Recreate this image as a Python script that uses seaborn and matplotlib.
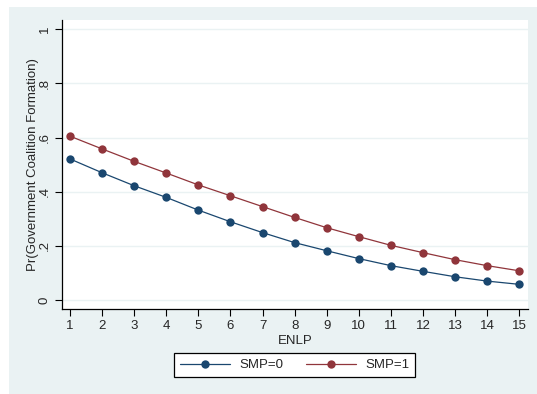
import numpy as np
import pandas as pd
import seaborn as sns
import matplotlib
matplotlib.use("Agg")
from matplotlib import pyplot as plt
from matplotlib.patches import Rectangle

enlp = list(range(1, 16))
smp0 = [0.521, 0.470, 0.422, 0.379, 0.332, 0.289, 0.249, 0.212,
        0.182, 0.153, 0.127, 0.106, 0.086, 0.070, 0.058]
smp1 = [0.605, 0.558, 0.512, 0.469, 0.425, 0.385, 0.345, 0.305,
        0.267, 0.234, 0.202, 0.175, 0.149, 0.127, 0.108]
series_labels = ["SMP=0", "SMP=1"]
y_ticks = [0, 0.2, 0.4, 0.6, 0.8, 1.0]
y_tick_labels = ["0", ".2", ".4", ".6", ".8", "1"]

df = pd.DataFrame({
    "ENLP": enlp * 2,
    "prob": smp0 + smp1,
    "SMP": [series_labels[0]] * len(enlp) + [series_labels[1]] * len(enlp),
})

NAVY = "#1a476f"
MAROON = "#90353b"
BG = "#eaf2f3"

sns.set_theme(style="white")
plt.rcParams["font.family"] = ["Liberation Sans", "DejaVu Sans"]

fig = plt.figure(figsize=(5.37, 3.94), dpi=100)
fig.patch.set_facecolor("white")
fig.patches.append(Rectangle((9 / 537, 0), 1 - 9 / 537, 1 - 7 / 394,
                             transform=fig.transFigure, facecolor=BG,
                             edgecolor="none", zorder=-5))

ax = fig.add_axes([62 / 537, 1 - 309 / 394, (528 - 62) / 537, (309 - 20) / 394])
ax.set_zorder(2)
ax.set_facecolor("white")

sns.lineplot(
    data=df, x="ENLP", y="prob", hue="SMP",
    palette={series_labels[0]: NAVY, series_labels[1]: MAROON},
    marker="o", markersize=6, markeredgewidth=0, linewidth=0.9,
    ax=ax, legend=True,
)

ax.set_xlim(0.75, 15.27)
ax.set_ylim(-0.033, 1.034)
ax.set_xticks(enlp)
ax.set_xticklabels([str(v) for v in enlp], fontsize=9.5)
ax.set_yticks(y_ticks)
ax.set_yticklabels(y_tick_labels, fontsize=9.5, rotation=90, va="center")
ax.tick_params(axis="both", direction="out", length=5, width=0.8,
               color="black", pad=3, left=True, bottom=True)
for y in y_ticks:
    ax.axhline(y, color=BG, lw=1.0, zorder=0)

for side in ("top", "right"):
    ax.spines[side].set_visible(False)
for side in ("left", "bottom"):
    ax.spines[side].set_color("black")
    ax.spines[side].set_linewidth(0.9)

ax.set_xlabel("ENLP", fontsize=9.5, labelpad=2)
ax.set_ylabel("Pr(Government Coalition Formation)", fontsize=9.5, labelpad=0)

handles, labels = ax.get_legend_handles_labels()
ax.legend_.remove()
leg = fig.legend(handles, labels, loc="center", bbox_to_anchor=(294.5 / 537, 1 - 365 / 394),
                 ncol=2, frameon=True, fancybox=False, framealpha=1, fontsize=9.5,
                 handlelength=3.8, columnspacing=1.7, handletextpad=0.7,
                 borderpad=0.45, edgecolor="black")
leg.get_frame().set_linewidth(0.9)
leg.get_frame().set_facecolor("white")
leg.set_zorder(3)

fig.savefig("out.png", dpi=100, facecolor=fig.get_facecolor())
